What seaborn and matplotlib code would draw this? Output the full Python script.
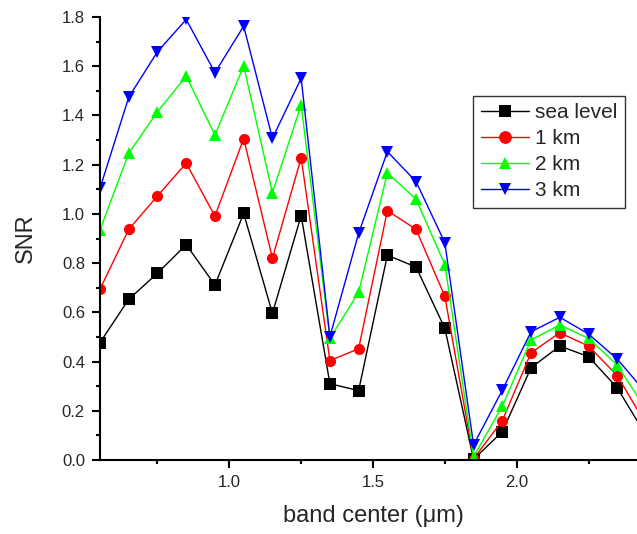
import numpy as np
import pandas as pd
import matplotlib
matplotlib.use("Agg")
import matplotlib.pyplot as plt
from matplotlib.ticker import MultipleLocator
import seaborn as sns

band_center = [0.55, 0.65, 0.75, 0.85, 0.95, 1.05, 1.15, 1.25, 1.35, 1.45,
               1.55, 1.65, 1.75, 1.85, 1.95, 2.05, 2.15, 2.25, 2.35, 2.45]
sea_level = [0.477, 0.653, 0.759, 0.875, 0.711, 1.002, 0.596, 0.993, 0.310, 0.282,
             0.832, 0.784, 0.535, 0.003, 0.115, 0.375, 0.463, 0.420, 0.293, 0.100]
km1 = [0.694, 0.937, 1.073, 1.206, 0.991, 1.306, 0.820, 1.228, 0.404, 0.452,
       1.013, 0.937, 0.665, 0.005, 0.160, 0.436, 0.517, 0.463, 0.343, 0.145]
km2 = [0.935, 1.246, 1.415, 1.560, 1.320, 1.601, 1.086, 1.443, 0.494, 0.681,
       1.167, 1.059, 0.794, 0.013, 0.219, 0.488, 0.549, 0.494, 0.386, 0.205]
km3 = [1.104, 1.474, 1.659, 1.790, 1.574, 1.763, 1.307, 1.551, 0.501, 0.921,
       1.253, 1.131, 0.883, 0.061, 0.284, 0.521, 0.580, 0.512, 0.410, 0.273]
series_names = ["sea level", "1 km", "2 km", "3 km"]

frames = []
for name, vals in zip(series_names, [sea_level, km1, km2, km3]):
    frames.append(pd.DataFrame({"x": band_center, "y": vals, "series": name}))
df = pd.concat(frames, ignore_index=True)

sns.set_style("ticks")
plt.rcParams["font.family"] = ["Liberation Sans", "DejaVu Sans"]

fig = plt.figure(figsize=(6.37, 5.34), dpi=100)
ax = fig.add_axes([100 / 637, 74 / 534, 546 / 637, 443 / 534])

palette = {"sea level": "#000000", "1 km": "#ff0000", "2 km": "#00ff00", "3 km": "#0000ff"}
markers = {"sea level": "s", "1 km": "o", "2 km": "^", "3 km": "v"}
sns.lineplot(data=df, x="x", y="y", hue="series", style="series",
             palette=palette, markers=markers, dashes=False, ax=ax,
             linewidth=1.0, markersize=8, markeredgewidth=0, clip_on=True)

ax.set_xlim(0.55, 2.45)
ax.set_ylim(0, 1.8)
ax.xaxis.set_major_locator(MultipleLocator(0.5))
ax.xaxis.set_minor_locator(MultipleLocator(0.25))
ax.yaxis.set_major_locator(MultipleLocator(0.2))
ax.yaxis.set_minor_locator(MultipleLocator(0.1))
ax.xaxis.set_major_formatter(matplotlib.ticker.FormatStrFormatter("%.1f"))
ax.yaxis.set_major_formatter(matplotlib.ticker.FormatStrFormatter("%.1f"))

for s in ["top", "right"]:
    ax.spines[s].set_visible(False)
for s in ["left", "bottom"]:
    ax.spines[s].set_linewidth(1.5)
    ax.spines[s].set_color("black")

ax.tick_params(which="major", direction="out", length=6, width=1.5, labelsize=12,
               color="black", pad=4.8)
ax.tick_params(which="minor", direction="out", length=3, width=1.5, color="black")

ax.set_xlabel("band center (\u03bcm)", fontsize=17)
ax.set_ylabel("SNR", fontsize=17)
ax.xaxis.set_label_coords(0.5, -0.1016)
ax.yaxis.set_label_coords(-0.116, 0.5)

leg = ax.legend(loc="upper left", bbox_to_anchor=(0.684, 0.822), borderaxespad=0,
                fontsize=15, frameon=True, fancybox=False, handlelength=2.3,
                handletextpad=0.3, labelspacing=0.34, borderpad=0.35, title=None,
                markerscale=1.15)
leg.get_frame().set_edgecolor("black")
leg.get_frame().set_linewidth(1.0)

fig.savefig("out.png", dpi=100)
